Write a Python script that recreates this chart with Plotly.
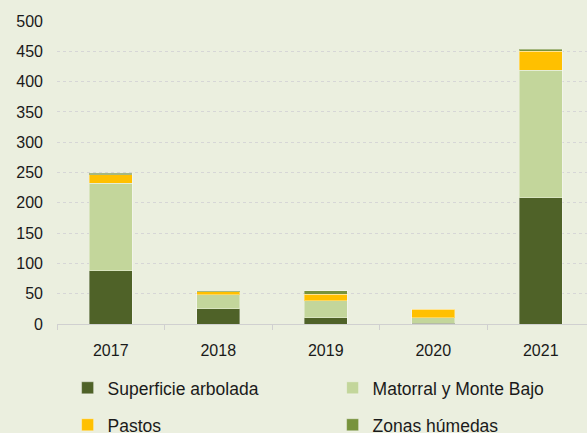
import plotly.graph_objects as go

years = ["2017", "2018", "2019", "2020", "2021"]
arbolada = [88, 25, 10, 1, 208]
matorral = [144, 23, 28, 9, 211]
pastos = [14, 5, 11.5, 14, 31]
humedas = [3, 1, 5, 0, 3]

names = ["Superficie arbolada", "Matorral y Monte Bajo", "Pastos", "Zonas húmedas"]
colors = ["#4F6228", "#C3D69B", "#FFC000", "#77933C"]
legends = ["legend", "legend", "legend2", "legend2"]
series = [arbolada, matorral, pastos, humedas]

fig = go.Figure()
for n, c, s, lg in zip(names, colors, series, legends):
    fig.add_trace(go.Bar(
        x=years, y=s, name=n, width=0.4,
        marker=dict(color=c, line=dict(color="rgba(255,255,255,0.35)", width=1)),
        legend=lg,
    ))

bg = "#EBEFDF"
leg_common = dict(orientation="h", x=0.02, xanchor="left", yanchor="middle",
                  entrywidth=220, entrywidthmode="pixels", bgcolor="rgba(0,0,0,0)",
                  font=dict(size=17.5), traceorder="normal")
fig.update_layout(
    barmode="stack",
    width=587, height=433,
    paper_bgcolor=bg, plot_bgcolor=bg,
    margin=dict(l=57, r=0, t=21, b=109, autoexpand=False),
    font=dict(family="Liberation Sans, Arial, sans-serif", size=16, color="#1a1a1a"),
    xaxis=dict(
        type="category", range=[-0.5, 4.43],
        showline=True, linecolor="#D0D0D0", linewidth=1,
        ticks="outside", tickson="boundaries", ticklen=5, tickcolor="#D0D0D0",
        showgrid=False, ticklabelstandoff=12,
    ),
    yaxis=dict(
        range=[0, 500], dtick=50,
        showgrid=True, gridcolor="#D6D6D6", griddash="dot", gridwidth=1,
        zeroline=False, showline=False, ticklabelstandoff=13,
    ),
    legend=dict(y=-0.211, **leg_common),
    legend2=dict(y=-0.333, **leg_common),
)

fig.write_html(
    "out.html",
    config={"displayModeBar": False},
    post_script="document.body.style.margin='0';document.body.style.background='%s';" % bg,
)
